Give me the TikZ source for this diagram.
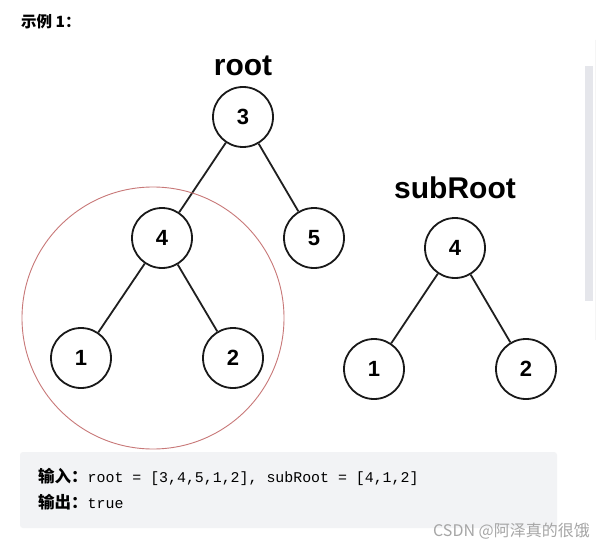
\documentclass[tikz,border=0pt]{standalone}
\usepackage{fontspec}
\setmainfont{Liberation Sans}
\setmonofont{Liberation Mono}
\newfontfamily\cjk{Noto Sans CJK SC}
\definecolor{boxbg}{RGB}{242,243,245}
\definecolor{hlred}{RGB}{200,120,120}
\definecolor{scrollc}{RGB}{229,230,235}
\begin{document}
\begin{tikzpicture}[x=1pt,y=-1pt,
  tn/.style={circle,draw=black!90,line width=1.8pt,minimum size=60pt,inner sep=0pt,font=\fontsize{22}{22}\selectfont\bfseries},
  ed/.style={draw=black!88,line width=1.8pt},
  lbl/.style={font=\fontsize{30}{30}\selectfont\bfseries}]
\useasboundingbox (0,0) rectangle (599,548);
\fill[white] (0,0) rectangle (599,548);
% title
\node[anchor=west,inner sep=0pt,font=\cjk\fontsize{15.5}{15.5}\selectfont\bfseries] (title) at (21,22) {示例 1：};
% scrollbar
\fill[scrollc] (585,66) rectangle (593,301);
\draw[black!4,line width=1pt] (595.5,40) -- (595.5,340);
% labels
\node[lbl] (lroot) at (243,66) {root};
\node[lbl] (lsub) at (455,188) {subRoot};
% main tree
\node[tn] (r3) at (243,117) {3};
\node[tn] (r4) at (162,238) {4};
\node[tn] (r5) at (314,238) {5};
\node[tn] (r1) at (81,358) {1};
\node[tn] (r2) at (233,358) {2};
\draw[ed] (r3) -- (r4);
\draw[ed] (r3) -- (r5);
\draw[ed] (r4) -- (r1);
\draw[ed] (r4) -- (r2);
% highlight
\node[circle,draw=hlred,line width=0.9pt,minimum size=262pt,inner sep=0pt] (hl) at (153,318) {};
% subtree
\node[tn] (s4) at (455,248) {4};
\node[tn] (s1) at (374,369) {1};
\node[tn] (s2) at (526,369) {2};
\draw[ed] (s4) -- (s1);
\draw[ed] (s4) -- (s2);
% example box
\fill[boxbg,rounded corners=3pt] (20,452) rectangle (557,528);
\node[anchor=west,inner sep=0pt] (in) at (38,477) {{\cjk\fontsize{16.5}{16.5}\selectfont\bfseries 输入：}{\ttfamily\fontsize{14.9}{15}\selectfont root = [3,4,5,1,2], subRoot = [4,1,2]}};
\node[anchor=west,inner sep=0pt] (out) at (38,502) {{\cjk\fontsize{16.5}{16.5}\selectfont\bfseries 输出：}{\ttfamily\fontsize{14.9}{15}\selectfont true}};
% watermark
\node[anchor=east,inner sep=0pt,text=black!35,font=\cjk\fontsize{16}{16}\selectfont] (wm) at (590,531) {CSDN @阿泽真的很饿};
\end{tikzpicture}
\end{document}
